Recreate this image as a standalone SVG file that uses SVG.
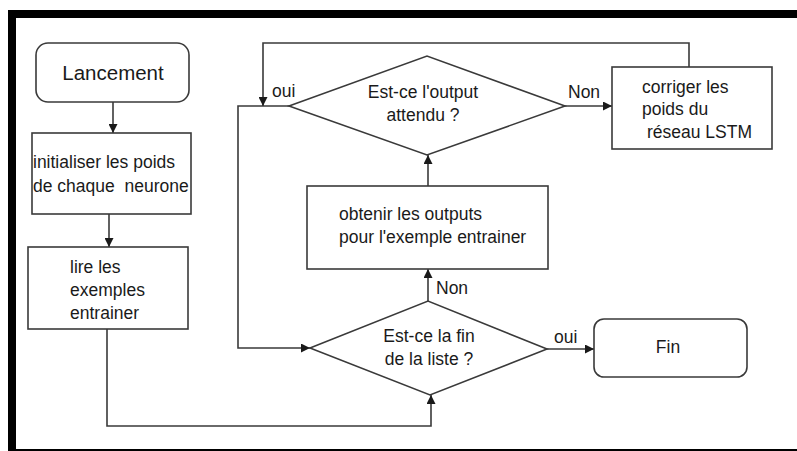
<svg xmlns="http://www.w3.org/2000/svg" width="797" height="451" viewBox="0 0 797 451">
<style>
.s{fill:#fff;stroke:#3a3a3a;stroke-width:1.6}
.c{fill:none;stroke:#3a3a3a;stroke-width:1.6}
text{font-family:"Liberation Sans",Arial,sans-serif;font-size:17.5px;fill:#1a1a1a}
.m{text-anchor:middle}
</style>
<defs>
<marker id="a" viewBox="0 0 10 10" refX="10" refY="5" markerWidth="9" markerHeight="9" markerUnits="userSpaceOnUse" orient="auto">
<path d="M0,0 L10,5 L0,10 z" fill="#1a1a1a"/>
</marker>
</defs>
<rect x="0" y="0" width="797" height="451" fill="#fff"/>
<g id="frame">
<rect x="8" y="10" width="789" height="8" fill="#000"/>
<rect x="8" y="10" width="8" height="441" fill="#000"/>
<rect x="8" y="449" width="789" height="2" fill="#000"/>
</g>
<g id="connectors">
<path class="c" d="M113,102 V133" marker-end="url(#a)"/>
<path class="c" d="M109,214 V247" marker-end="url(#a)"/>
<path class="c" d="M107,329 V426 H431 V395" marker-end="url(#a)"/>
<path class="c" d="M289,106 H238 V348 H310" marker-end="url(#a)"/>
<path class="c" d="M428,301 V269" marker-end="url(#a)"/>
<path class="c" d="M428,186 V155" marker-end="url(#a)"/>
<path class="c" d="M565,106 H612" marker-end="url(#a)"/>
<path class="c" d="M689,67 V43 H263 V106" marker-end="url(#a)"/>
<path class="c" d="M547,349 H594" marker-end="url(#a)"/>
<text x="272" y="97">oui</text>
<text x="568" y="98">Non</text>
<text x="436" y="294">Non</text>
<text x="554" y="343">oui</text>
</g>
<g id="lancement">
<rect class="s" x="36" y="43" width="153" height="59" rx="12"/>
<text class="m" x="113" y="80" style="font-size:20.5px">Lancement</text>
</g>
<g id="initialiser">
<rect class="s" x="32" y="133" width="159" height="81"/>
<text x="33" y="168">initialiser les poids</text>
<text x="33" y="192" xml:space="preserve">de chaque  neurone</text>
</g>
<g id="lire">
<rect class="s" x="28" y="247" width="160" height="82"/>
<text x="70" y="273">lire les</text>
<text x="70" y="296">exemples</text>
<text x="70" y="319">entrainer</text>
</g>
<g id="output-attendu">
<polygon class="s" points="289,106 427,56 565,106 427,155"/>
<text class="m" x="423" y="98">Est-ce l'output</text>
<text class="m" x="423" y="121">attendu ?</text>
</g>
<g id="corriger">
<rect class="s" x="612" y="67" width="160" height="82"/>
<text x="642" y="93">corriger les</text>
<text x="642" y="115">poids du</text>
<text x="647" y="138">réseau LSTM</text>
</g>
<g id="obtenir">
<rect class="s" x="307" y="186" width="241" height="83"/>
<text x="339" y="220">obtenir les outputs</text>
<text x="339" y="243">pour l'exemple entrainer</text>
</g>
<g id="fin-liste">
<polygon class="s" points="310,348 428,301 547,349 430,395"/>
<text class="m" x="429" y="342">Est-ce la fin</text>
<text class="m" x="429" y="365">de la liste ?</text>
</g>
<g id="fin">
<rect class="s" x="594" y="319" width="153" height="58" rx="10"/>
<text class="m" x="668" y="353">Fin</text>
</g>
</svg>
